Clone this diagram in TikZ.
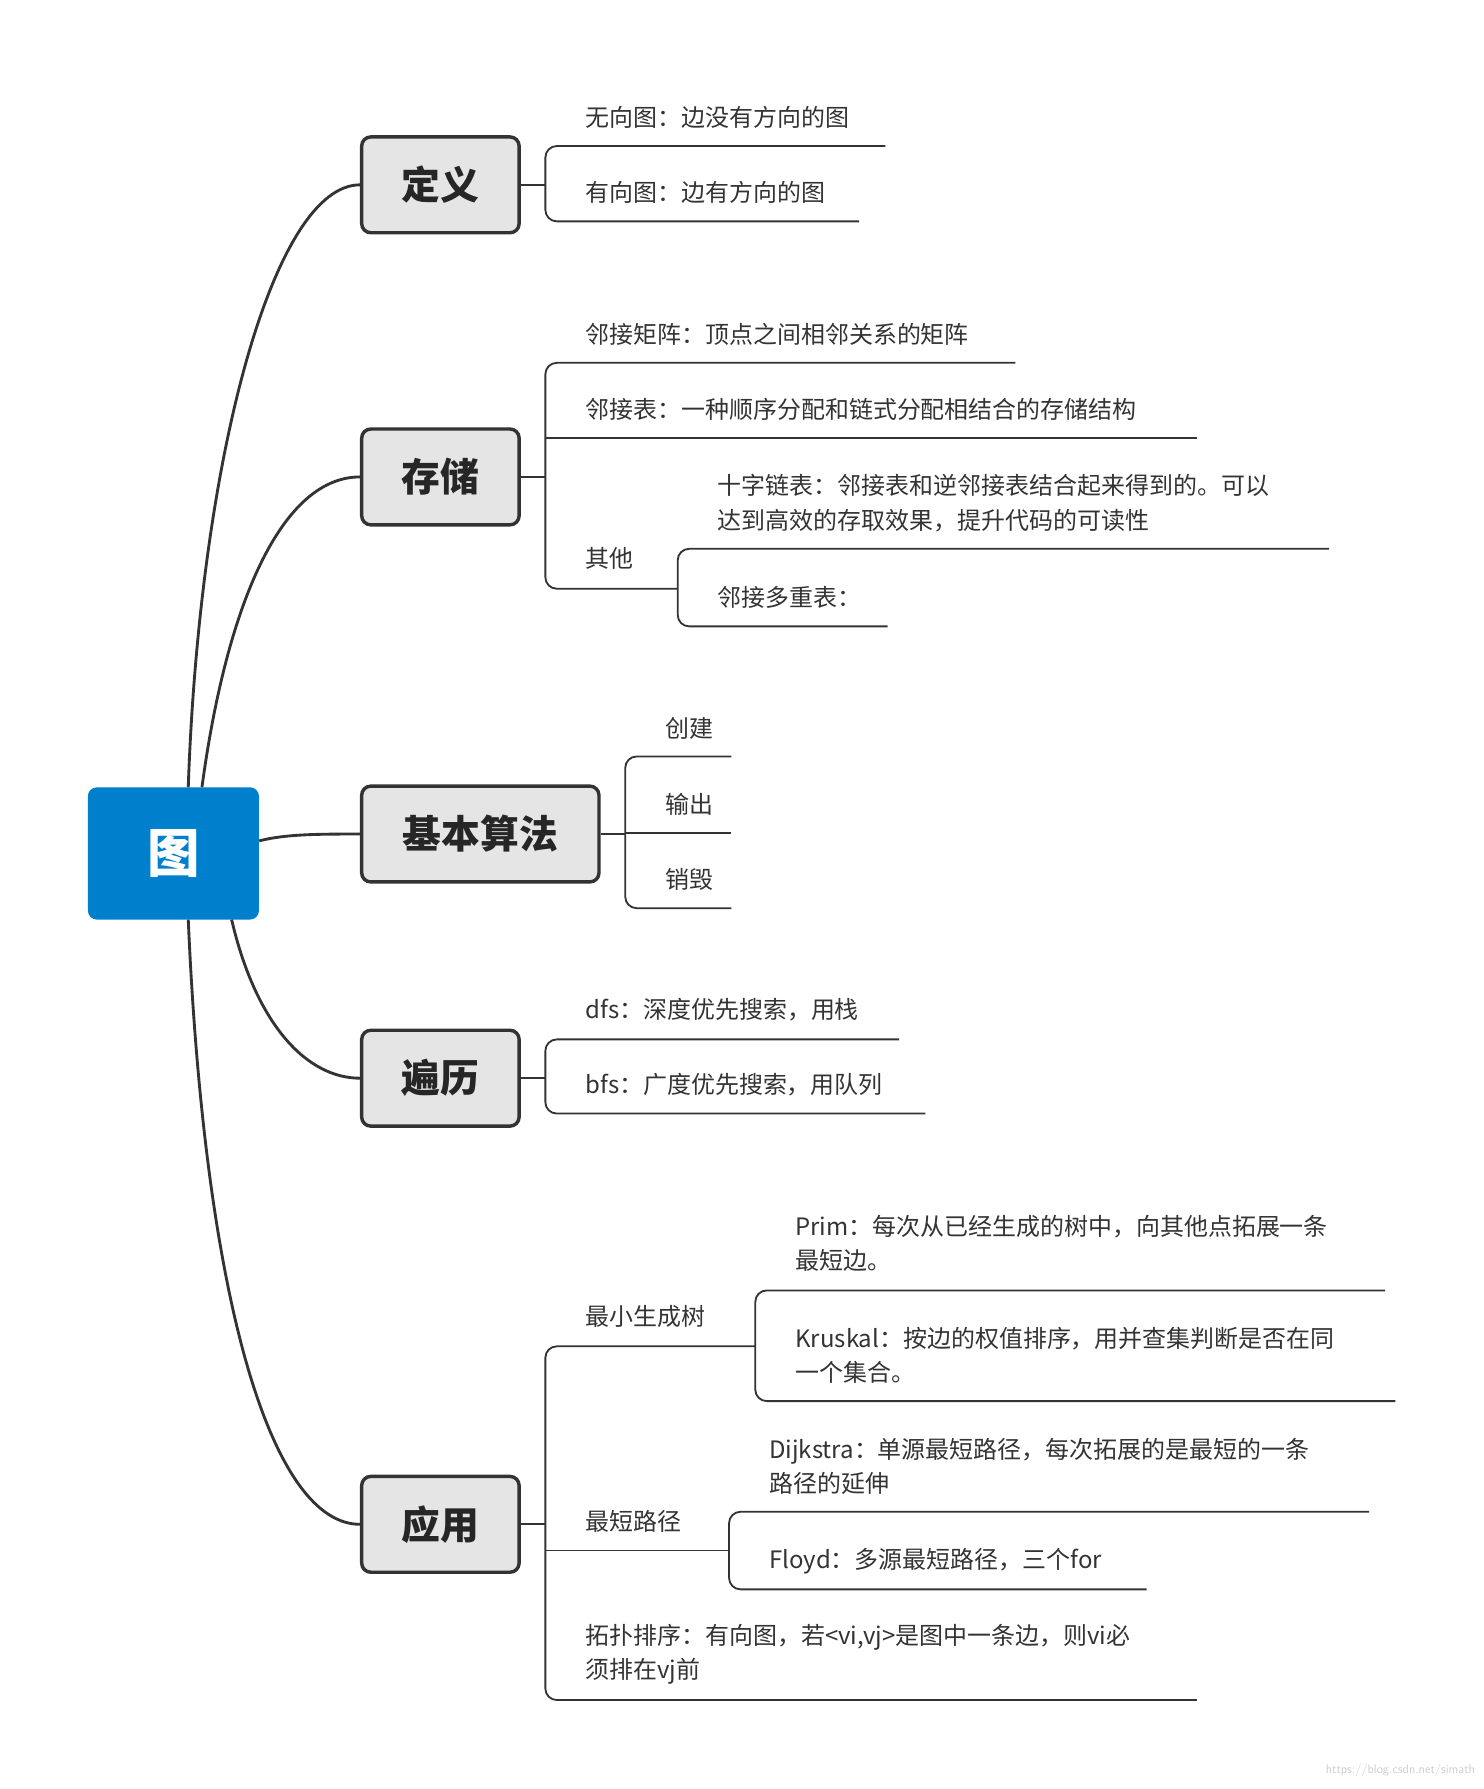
\documentclass[tikz,border=0pt]{standalone}
\usepackage{fontspec}
\setmainfont{Noto Sans CJK SC}
\begin{document}
\begin{tikzpicture}[x=1pt,y=-1pt,
  line/.style={line width=1.6pt,draw=black!80},
  br/.style={line width=1.6pt,draw=black!80,rounded corners=10pt},
  box/.style={draw=black!80,line width=3pt,fill=black!10,rounded corners=8pt,font=\fontsize{34}{40}\selectfont\bfseries,text=black!85,minimum height=84pt,inner sep=0pt},
  lf/.style={anchor=west,inner sep=0pt,font=\fontsize{21}{30}\selectfont,text=black!80,align=left},
  conn/.style={line width=2.5pt,draw=black!80}]
\useasboundingbox (0,0) rectangle (1300,1568);
\node[fill={rgb,255:red,0;green,128;blue,204},rounded corners=8pt,minimum width=150pt,minimum height=116pt,text=white,font=\fontsize{46}{50}\selectfont\bfseries,inner sep=0pt] (root) at (152,748) {图};
\node[box,minimum width=138pt] (d) at (386,162) {定义};
\node[box,minimum width=138pt] (c) at (386,418) {存储};
\node[box,minimum width=208pt] (j) at (421,731) {基本算法};
\node[box,minimum width=138pt] (b) at (386,945) {遍历};
\node[box,minimum width=138pt] (y) at (386,1336) {应用};
\draw[conn] (165,690) .. controls (175,400) and (240,162) .. (d.west);
\draw[conn] (177,690) .. controls (200,520) and (250,418) .. (c.west);
\draw[conn] (root.east |- 0,737) .. controls (250,731) and (280,731) .. (j.west);
\draw[conn] (203,806) .. controls (225,900) and (270,945) .. (b.west);
\draw[conn] (165,806) .. controls (180,1150) and (240,1336) .. (y.west);
% 定义
\draw[line] (d.east) -- (478,162);
\draw[br] (776,128) -- (478,128) -- (478,194) -- (753,194);
\node[lf] (d1) at (513,103) {无向图：边没有方向的图};
\node[lf] (d2) at (513,169) {有向图：边有方向的图};
% 存储
\draw[line] (c.east) -- (478,418);
\draw[br] (890,318) -- (478,318) -- (478,516) -- (594,516);
\draw[line] (478,384) -- (1049,384);
\node[lf] (c1) at (513,293) {邻接矩阵：顶点之间相邻关系的矩阵};
\node[lf] (c2) at (513,359) {邻接表：一种顺序分配和链式分配相结合的存储结构};
\node[lf] (c3) at (513,489) {其他};
\draw[br] (1165,481) -- (594,481) -- (594,549) -- (778,549);
\node[lf] (c31) at (629,441) {十字链表：邻接表和逆邻接表结合起来得到的。可以\\达到高效的存取效果，提升代码的可读性};
\node[lf] (c32) at (629,524) {邻接多重表：};
% 基本算法
\draw[line] (j.east) -- (548,731);
\draw[br] (641,663) -- (548,663) -- (548,796) -- (641,796);
\draw[line] (548,730) -- (641,730);
\node[lf] (j1) at (583,638) {创建};
\node[lf] (j2) at (583,705) {输出};
\node[lf] (j3) at (583,771) {销毁};
% 遍历
\draw[line] (b.east) -- (478,945);
\draw[br] (788,911) -- (478,911) -- (478,976) -- (811,976);
\node[lf] (b1) at (513,885) {dfs：深度优先搜索，用栈};
\node[lf] (b2) at (513,951) {bfs：广度优先搜索，用队列};
% 应用
\draw[line] (y.east) -- (478,1336);
\draw[br] (662,1180) -- (478,1180) -- (478,1490) -- (1049,1490);
\draw[line] (478,1359) -- (639,1359);
\node[lf] (y1) at (513,1154) {最小生成树};
\draw[br] (1214,1131) -- (662,1131) -- (662,1228) -- (1223,1228);
\node[lf] (y11) at (697,1090) {Prim：每次从已经生成的树中，向其他点拓展一条\\最短边。};
\node[lf] (y12) at (697,1188) {Kruskal：按边的权值排序，用并查集判断是否在同\\一个集合。};
\node[lf] (y2) at (513,1333) {最短路径};
\draw[br] (1200,1325) -- (639,1325) -- (639,1393) -- (1005,1393);
\node[lf] (y21) at (674,1285) {Dijkstra：单源最短路径，每次拓展的是最短的一条\\路径的延伸};
\node[lf] (y22) at (674,1368) {Floyd：多源最短路径，三个for};
\node[lf] (y3) at (513,1450) {拓扑排序：有向图，若<vi,vj>是图中一条边，则vi必\\须排在vj前};
\node[anchor=east,inner sep=0pt,font=\fontsize{11}{12}\selectfont\sffamily,text=black!20] (wm) at (1293,1552) {https://blog.csdn.net/simath};
\end{tikzpicture}
\end{document}
